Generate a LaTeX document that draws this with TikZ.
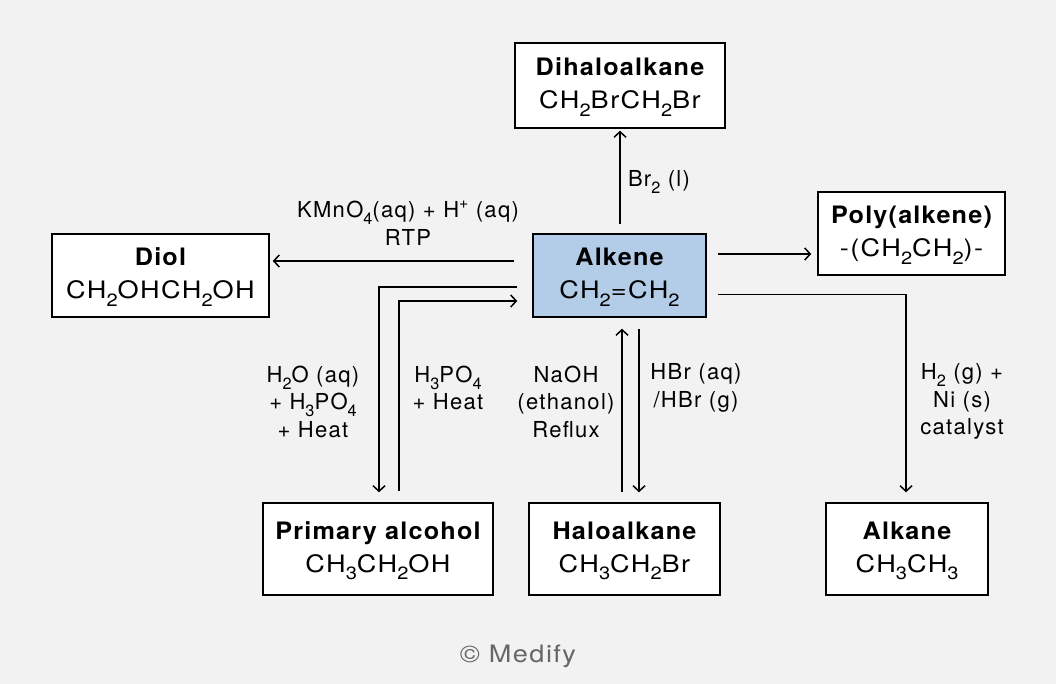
\documentclass[tikz,border=0pt]{standalone}
\usepackage{fontspec}
\setmainfont{TeX Gyre Heros}[LetterSpace=6]
\newfontfamily\boxreg{TeX Gyre Heros}[LetterSpace=6, FakeStretch=1.13]
\newfontfamily\boxbold{TeX Gyre Heros}[LetterSpace=5, FakeStretch=1.05]
\usetikzlibrary{arrows.meta,calc}
\definecolor{bgc}{HTML}{F2F2F2}
\definecolor{alkc}{HTML}{B3CCE8}
\definecolor{cpy}{HTML}{666666}
\newcommand\sbs[1]{\raisebox{-0.32em}{\scalebox{0.74}{#1}}}
\newcommand\sps[1]{\raisebox{0.42em}{\scalebox{0.72}{#1}}}
\newcommand\bx[2]{\raisebox{-1.5pt}{\begin{tabular}{@{}c@{}}{\boxbold\bfseries #1}\\{\boxreg #2}\end{tabular}}}
\begin{document}
\begin{tikzpicture}[x=1pt,y=-1pt,
  box/.style={draw=black, line width=1.5pt, fill=white, inner sep=0pt, align=center,
    font=\fontsize{24}{33}\selectfont},
  lab/.style={inner sep=0pt, align=center, font=\fontsize{22}{27.5}\selectfont},
  arr/.style={line width=1.5pt, -{Straight Barb[length=5.5pt,width=12pt,line width=1.5pt]}}]
\fill[bgc] (0,0) rectangle (1056,684);
\useasboundingbox (0,0) rectangle (1056,684);
% boxes
\node[box, minimum width=210pt, minimum height=85pt] (dih) at (620,85.5)
  {\bx{Dihaloalkane}{CH\sbs{2}BrCH\sbs{2}Br}};
\node[box, fill=alkc, minimum width=173pt, minimum height=83pt] (alk) at (619.5,275.5)
  {\bx{Alkene}{CH\sbs{2}=CH\sbs{2}}};
\node[box, minimum width=187pt, minimum height=83pt] (pol) at (911.5,233.5)
  {\bx{Poly(alkene)}{-(CH\sbs{2}CH\sbs{2})-}};
\node[box, minimum width=217pt, minimum height=83pt] (diol) at (160.5,275.5)
  {\bx{Diol}{CH\sbs{2}OHCH\sbs{2}OH}};
\node[box, minimum width=230pt, minimum height=92pt] (pri) at (378,549)
  {\bx{Primary alcohol}{CH\sbs{3}CH\sbs{2}OH}};
\node[box, minimum width=191pt, minimum height=92pt] (hal) at (624.5,549)
  {\bx{Haloalkane}{CH\sbs{3}CH\sbs{2}Br}};
\node[box, minimum width=162pt, minimum height=92pt] (alka) at (907,549)
  {\bx{Alkane}{CH\sbs{3}CH\sbs{3}}};
% arrows
\draw[arr] ([xshift=0.5pt,yshift=9pt]alk.north) -- ([yshift=-2pt]dih.south);
\draw[arr] ([xshift=-18pt,yshift=14.5pt]alk.west) -- ([xshift=3pt,yshift=14.5pt]diol.east);
\draw[arr] ([xshift=11pt,yshift=21.5pt]alk.east) -- ([xshift=-6pt,yshift=21.5pt]alk.east -| pol.west);
\draw[arr] ([xshift=11pt,yshift=-19pt]alk.east) -| ([xshift=-1pt,yshift=10pt]alka.north);
\draw[arr] ([xshift=-15pt,yshift=-11.5pt]alk.west) -| ([xshift=1pt,yshift=10pt]pri.north);
\draw[arr] ([xshift=21pt,yshift=11pt]pri.north) |- ([xshift=-15pt,yshift=-25.5pt]alk.west);
\draw[arr] ([xshift=-2.5pt,yshift=10pt]hal.north) -- ([xshift=2.5pt,yshift=-11pt]alk.south);
\draw[arr] ([xshift=19.5pt,yshift=-11pt]alk.south) -- ([xshift=14.5pt,yshift=10pt]hal.north);
% labels
\node[lab] (lbr) at (659,182) {Br\sbs{2} (l)};
\node[lab] (lkm) at (408,223) {KMnO\sbs{4}(aq) + H\sps{+} (aq)\\RTP};
\node[lab] (lh2o) at (313,401.5) {H\sbs{2}O (aq)\\+ H\sbs{3}PO\sbs{4}\\+ Heat};
\node[lab] (lh3) at (448,388) {H\sbs{3}PO\sbs{4}\\+ Heat};
\node[lab] (lna) at (566,401.5) {NaOH\\(ethanol)\\Reflux};
\node[lab] (lhbr) at (696,388) {HBr (aq)\\/HBr (g)};
\node[lab] (lh) at (962,401.5) {H\sbs{2} (g) +\\Ni (s)\\catalyst};
\node[lab, text=cpy, font=\fontsize{24}{27}\selectfont\boxreg] (cp) at (518,656) {© Medify};
\end{tikzpicture}
\end{document}
